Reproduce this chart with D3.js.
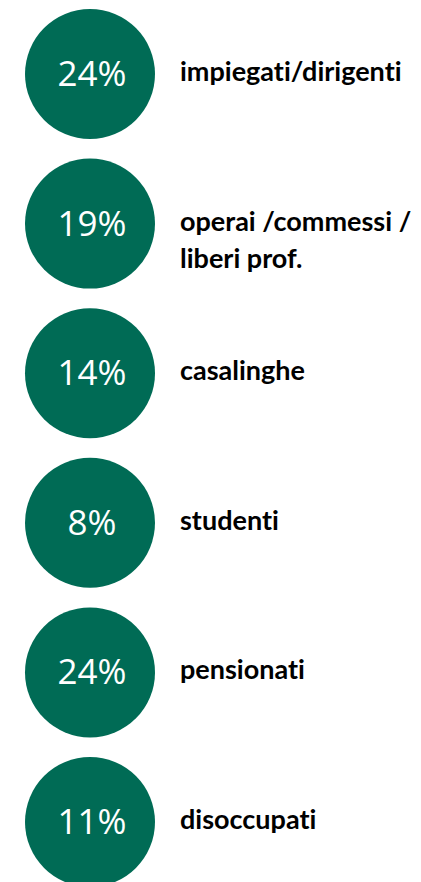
<!DOCTYPE html>
<html>
<head>
<meta charset="utf-8">
<script src="https://cdn.jsdelivr.net/npm/d3@7"></script>
<style>
  body { margin: 0; background: #fff; }
  svg { display: block; }
</style>
</head>
<body>
<svg width="421" height="882"></svg>
<script>
// categories and their shares (%)
const categories = ["impiegati/dirigenti", "operai /commessi /\nliberi prof.", "casalinghe", "studenti", "pensionati", "disoccupati"];
const shares = [24, 19, 14, 8, 24, 11];

const data = categories.map((c, i) => ({label: c, value: shares[i]}));

const svg = d3.select("svg");
const green = "#006B55";

const y = d3.scalePoint()
    .domain(categories)
    .range([74, 822]);

const cx = 90, r = 65;

const row = svg.selectAll(".row")
    .data(data)
    .enter().append("g")
    .attr("class", "row")
    .attr("transform", d => `translate(0,${y(d.label)})`);

row.append("circle")
    .attr("cx", cx)
    .attr("cy", 0)
    .attr("r", r)
    .attr("fill", green);

row.append("text")
    .attr("x", cx + 2)
    .attr("y", 12)
    .attr("text-anchor", "middle")
    .attr("fill", "#fff")
    .style("font-family", "'Open Sans', sans-serif")
    .style("font-size", "35px")
    .text(d => d.value + "%");

// category labels (may wrap onto two lines)
row.append("text")
    .attr("x", 180)
    .attr("y", 7)
    .attr("fill", "#000")
    .style("font-family", "Lato, sans-serif")
    .style("font-weight", "bold")
    .style("font-size", "27px")
    .style("font-variant-ligatures", "none")
    .selectAll("tspan")
    .data(d => d.label.split("\n"))
    .enter().append("tspan")
    .attr("x", 180)
    .attr("dy", (d, i) => i === 0 ? 0 : 37)
    .text(d => d);
</script>
</body>
</html>
